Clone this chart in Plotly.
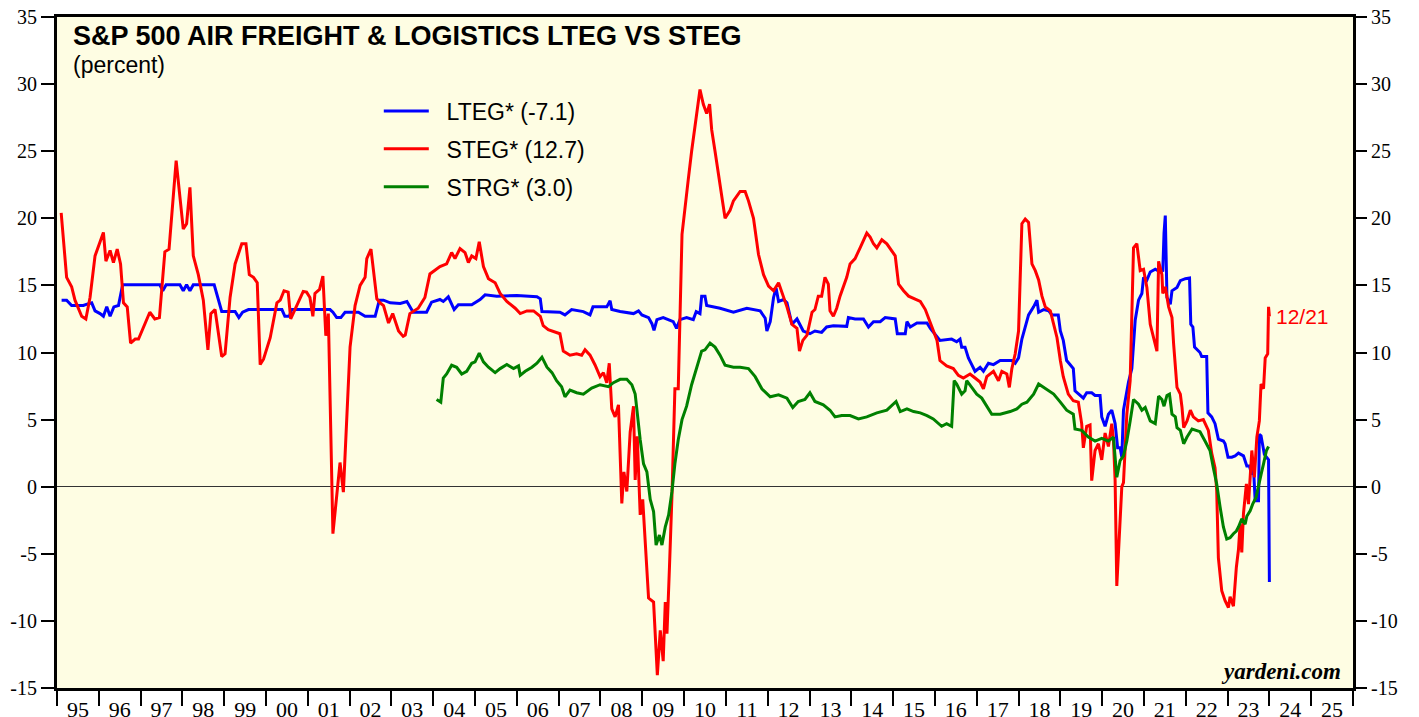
import plotly.graph_objects as go

# decimal years and values
lteg_x = [1995.11, 1995.23, 1995.35, 1995.63, 1995.72, 1995.83, 1995.91, 1996.03, 1996.11, 1996.19,
          1996.27, 1996.36, 1996.47, 1996.57, 1997.46, 1997.53, 1997.61, 1997.94, 1998.02, 1998.10,
          1998.18, 1998.26, 1998.76, 1998.94, 1999.26, 1999.35, 1999.44, 1999.58, 2000.38, 2000.45,
          2000.56, 2000.61, 2001.53, 2001.60, 2001.69, 2001.79, 2001.89, 2002.21, 2002.37, 2002.61,
          2002.71, 2002.81, 2002.97, 2003.21, 2003.37, 2003.52, 2003.84, 2003.96, 2004.16, 2004.24,
          2004.36, 2004.50, 2004.60, 2004.92, 2005.12, 2005.24, 2005.52, 2006.00, 2006.48, 2006.56,
          2006.60, 2007.03, 2007.15, 2007.31, 2007.59, 2007.75, 2007.82, 2008.15, 2008.23, 2008.27,
          2008.47, 2008.79, 2008.91, 2008.99, 2009.15, 2009.23, 2009.28, 2009.35, 2009.50, 2009.74,
          2009.82, 2009.90, 2010.06, 2010.22, 2010.29, 2010.38, 2010.42, 2010.50, 2010.54, 2010.86,
          2011.18, 2011.50, 2011.82, 2011.94, 2011.98, 2012.06, 2012.14, 2012.20, 2012.26, 2012.38,
          2012.46, 2012.58, 2012.70, 2012.85, 2013.01, 2013.13, 2013.29, 2013.41, 2013.57, 2013.89,
          2013.93, 2014.09, 2014.29, 2014.41, 2014.53, 2014.69, 2014.81, 2015.05, 2015.10, 2015.29,
          2015.33, 2015.41, 2015.57, 2015.81, 2015.89, 2016.00, 2016.12, 2016.40, 2016.52, 2016.60,
          2016.64, 2016.72, 2016.80, 2016.88, 2016.96, 2017.08, 2017.16, 2017.28, 2017.40, 2017.56,
          2017.84, 2017.92, 2018.00, 2018.08, 2018.16, 2018.24, 2018.36, 2018.44, 2018.48, 2018.60,
          2018.72, 2018.80, 2018.95, 2019.00, 2019.07, 2019.15, 2019.23, 2019.31, 2019.35, 2019.43,
          2019.55, 2019.63, 2019.75, 2019.83, 2019.95, 2019.99, 2020.07, 2020.15, 2020.23, 2020.31,
          2020.37, 2020.43, 2020.47, 2020.51, 2020.59, 2020.63, 2020.71, 2020.79, 2020.87, 2020.95,
          2020.99, 2021.07, 2021.15, 2021.27, 2021.39, 2021.45, 2021.48, 2021.51, 2021.55, 2021.63,
          2021.67, 2021.79, 2021.87, 2021.99, 2022.09, 2022.12, 2022.17, 2022.21, 2022.34, 2022.38,
          2022.50, 2022.53, 2022.62, 2022.70, 2022.78, 2022.90, 2022.94, 2023.01, 2023.10, 2023.18,
          2023.26, 2023.38, 2023.46, 2023.52, 2023.58, 2023.62, 2023.66, 2023.74, 2023.76, 2023.80,
          2023.88, 2023.98, 2024.00]
lteg_y = [13.9, 13.9, 13.5, 13.5, 13.6, 13.7, 13.1, 12.9, 12.7, 13.4,
          12.7, 13.4, 13.5, 15.05, 15.05, 14.6, 15.05, 15.05, 14.6, 15.05,
          14.6, 15.05, 15.05, 13.06, 13.06, 12.6, 13.0, 13.2, 13.2, 12.7,
          12.7, 13.2, 13.2, 13.0, 12.6, 12.6, 13.0, 13.0, 12.7, 12.7,
          13.9, 13.9, 13.7, 13.65, 13.8, 13.0, 13.0, 13.75, 13.95, 13.8,
          14.15, 13.2, 13.55, 13.55, 13.95, 14.3, 14.2, 14.25, 14.15, 14.0,
          13.05, 13.0, 12.8, 13.2, 13.05, 12.8, 13.4, 13.4, 13.85, 13.2,
          13.05, 12.9, 13.1, 12.8, 12.6, 12.15, 11.65, 12.45, 12.6, 12.3,
          11.8, 12.45, 12.6, 12.45, 13.05, 12.9, 14.2, 14.2, 13.5, 13.3,
          13.0, 13.3, 13.1, 12.55, 11.6, 12.3, 14.1, 14.8, 13.8, 13.95,
          13.7, 12.1, 12.5, 11.6, 11.4, 11.6, 11.5, 11.9, 12.0, 11.95,
          12.6, 12.5, 12.5, 11.9, 12.3, 12.3, 12.6, 12.5, 11.4, 11.4,
          12.3, 11.9, 12.2, 12.2, 11.8, 11.4, 10.9, 11.0, 10.8, 11.0,
          10.4, 10.4, 9.6, 9.1, 8.6, 8.9, 8.6, 9.2, 9.1, 9.4,
          9.4, 9.2, 9.6, 11.0, 11.9, 12.8, 13.4, 13.9, 13.0, 13.2,
          13.1, 12.8, 12.8, 11.6, 10.9, 9.4, 9.1, 8.8, 7.15, 6.9,
          6.6, 7.0, 7.0, 6.8, 6.8, 5.2, 4.5, 5.4, 5.7, 4.7,
          2.9, 2.9, 2.2, 5.7, 7.15, 7.8, 8.8, 12.4, 13.9, 14.4,
          15.6, 15.4, 16.0, 16.2, 16.0, 16.1, 18.9, 20.2, 14.1, 13.6,
          14.6, 14.85, 15.35, 15.5, 15.55, 12.1, 11.9, 10.4, 10.0, 9.7,
          9.7, 5.5, 5.2, 4.7, 3.55, 3.4, 3.2, 2.2, 2.2, 2.3,
          2.5, 2.3, 1.55, 1.55, 0.9, 1.4, -1.05, -1.05, 3.9, 3.8,
          2.4, 2.0, -7.1]

steg_x = [1995.10, 1995.23, 1995.35, 1995.43, 1995.59, 1995.69, 1995.79, 1995.91, 1996.11, 1996.17,
          1996.27, 1996.35, 1996.44, 1996.52, 1996.59, 1996.68, 1996.76, 1996.87, 1996.95, 1997.22,
          1997.34, 1997.45, 1997.58, 1997.68, 1997.85, 1998.02, 1998.10, 1998.18, 1998.26, 1998.38,
          1998.50, 1998.61, 1998.68, 1998.78, 1998.94, 1999.02, 1999.14, 1999.26, 1999.42, 1999.52,
          1999.60, 1999.70, 1999.79, 1999.86, 1999.94, 2000.10, 2000.26, 2000.34, 2000.43, 2000.53,
          2000.59, 2000.73, 2000.89, 2000.97, 2001.05, 2001.12, 2001.17, 2001.28, 2001.36, 2001.43,
          2001.49, 2001.60, 2001.69, 2001.77, 2001.85, 2002.01, 2002.13, 2002.25, 2002.37, 2002.41,
          2002.51, 2002.65, 2002.73, 2002.81, 2002.93, 2003.03, 2003.17, 2003.28, 2003.33, 2003.44,
          2003.64, 2003.80, 2003.92, 2004.04, 2004.16, 2004.32, 2004.44, 2004.52, 2004.64, 2004.76,
          2004.84, 2004.92, 2005.02, 2005.10, 2005.20, 2005.32, 2005.48, 2005.60, 2005.76, 2005.96,
          2006.08, 2006.24, 2006.40, 2006.56, 2006.63, 2006.75, 2007.03, 2007.11, 2007.27, 2007.43,
          2007.55, 2007.63, 2007.75, 2007.87, 2007.99, 2008.07, 2008.15, 2008.21, 2008.27, 2008.35,
          2008.43, 2008.51, 2008.56, 2008.63, 2008.71, 2008.79, 2008.83, 2008.88, 2008.95, 2009.01,
          2009.09, 2009.15, 2009.27, 2009.31, 2009.36, 2009.43, 2009.50, 2009.55, 2009.59, 2009.65,
          2009.71, 2009.78, 2009.86, 2009.95, 2010.02, 2010.10, 2010.18, 2010.30, 2010.38, 2010.46,
          2010.54, 2010.61, 2010.66, 2010.74, 2010.82, 2010.90, 2010.98, 2011.10, 2011.18, 2011.34,
          2011.46, 2011.54, 2011.66, 2011.78, 2011.90, 2012.02, 2012.14, 2012.26, 2012.38, 2012.46,
          2012.58, 2012.70, 2012.76, 2012.84, 2012.94, 2013.06, 2013.13, 2013.21, 2013.29, 2013.37,
          2013.45, 2013.49, 2013.57, 2013.65, 2013.73, 2013.81, 2013.89, 2013.97, 2014.09, 2014.21,
          2014.29, 2014.37, 2014.45, 2014.53, 2014.61, 2014.73, 2014.85, 2014.97, 2015.05, 2015.13,
          2015.25, 2015.37, 2015.53, 2015.65, 2015.77, 2015.84, 2015.96, 2016.05, 2016.12, 2016.28,
          2016.44, 2016.56, 2016.68, 2016.84, 2016.96, 2017.08, 2017.16, 2017.24, 2017.40, 2017.52,
          2017.60, 2017.72, 2017.78, 2017.84, 2017.92, 2018.00, 2018.08, 2018.16, 2018.24, 2018.32,
          2018.40, 2018.48, 2018.56, 2018.64, 2018.76, 2018.84, 2018.92, 2019.00, 2019.07, 2019.19,
          2019.31, 2019.43, 2019.51, 2019.55, 2019.63, 2019.71, 2019.75, 2019.83, 2019.91, 2019.99,
          2020.07, 2020.15, 2020.23, 2020.27, 2020.31, 2020.35, 2020.41, 2020.47, 2020.51, 2020.59,
          2020.67, 2020.75, 2020.83, 2020.91, 2020.99, 2021.07, 2021.15, 2021.23, 2021.31, 2021.35,
          2021.43, 2021.45, 2021.51, 2021.59, 2021.67, 2021.71, 2021.79, 2021.87, 2021.91, 2021.95,
          2022.03, 2022.11, 2022.18, 2022.30, 2022.42, 2022.54, 2022.62, 2022.70, 2022.74, 2022.78,
          2022.86, 2022.94, 2023.02, 2023.06, 2023.14, 2023.21, 2023.26, 2023.30, 2023.34, 2023.38,
          2023.45, 2023.50, 2023.58, 2023.64, 2023.70, 2023.76, 2023.80, 2023.86, 2023.90, 2023.96,
          2023.98, 2024.00]
steg_y = [20.4, 15.6, 14.9, 13.9, 12.7, 12.5, 14.1, 17.2, 18.95, 16.8,
          17.6, 16.7, 17.7, 16.6, 13.7, 13.4, 10.7, 11.0, 11.0, 13.0,
          12.5, 12.6, 17.5, 17.7, 24.3, 19.2, 19.6, 22.3, 17.2, 15.8,
          13.9, 10.2, 12.9, 13.2, 9.7, 9.9, 14.1, 16.6, 18.1, 18.1,
          15.8, 15.6, 15.2, 9.1, 9.5, 11.1, 13.7, 13.9, 14.6, 14.5,
          12.5, 13.4, 14.55, 14.5, 14.1, 12.7, 14.4, 14.7, 15.7, 11.25,
          12.9, -3.5, -0.8, 1.8, -0.4, 10.4, 13.5, 15.0, 15.6, 17.0,
          17.7, 14.0, 13.7, 13.5, 12.2, 12.9, 11.6, 11.2, 11.3, 12.9,
          13.3, 14.1, 15.85, 16.1, 16.4, 16.6, 17.45, 17.0, 17.75, 17.45,
          16.7, 17.2, 17.0, 18.25, 16.4, 15.5, 15.2, 14.4, 13.8, 13.3,
          12.9, 13.1, 13.1, 12.7, 12.0, 11.7, 11.4, 10.1, 9.8, 9.9,
          9.8, 10.2, 9.8, 9.07, 8.2, 8.5, 7.75, 9.2, 5.8, 5.2,
          6.1, -1.25, 1.1, -0.36, 4.06, 6.0, 0.5, 3.76, -2.1, -0.95,
          -5.1, -8.3, -8.6, -10.7, -14.05, -10.7, -13.0, -8.6, -10.95, -6.0,
          -0.66, 7.3, 7.3, 18.8, 20.9, 22.9, 25.0, 27.6, 29.6, 28.5,
          27.8, 28.5, 26.6, 25.0, 23.2, 21.4, 20.0, 20.6, 21.3, 22.0,
          22.0, 21.3, 20.0, 17.3, 15.8, 14.95, 14.6, 15.2, 14.1, 13.4,
          12.1, 11.8, 10.1, 10.9, 11.3, 13.0, 13.2, 14.2, 14.2, 15.6,
          15.1, 13.1, 12.7, 13.3, 14.2, 14.85, 15.6, 16.6, 17.0, 17.8,
          18.3, 18.9, 18.6, 18.1, 17.8, 18.4, 18.1, 17.6, 17.2, 15.1,
          14.6, 14.2, 14.0, 13.8, 13.2, 12.6, 11.6, 10.9, 9.4, 9.0,
          8.8, 8.3, 8.1, 8.4, 8.1, 7.8, 7.3, 8.2, 8.6, 7.9,
          8.6, 8.4, 7.4, 8.8, 9.9, 11.6, 19.6, 19.95, 19.7, 16.6,
          16.1, 15.4, 14.2, 13.4, 13.1, 12.1, 11.1, 9.4, 8.2, 6.9,
          6.4, 6.3, 4.7, 2.9, 4.5, 4.6, 0.45, 2.7, 3.2, 2.0,
          4.0, 3.0, 4.7, 3.5, 0.45, -7.4, -3.3, 0.0, 0.3, 5.4,
          7.9, 17.8, 18.1, 16.1, 16.2, 14.85, 12.1, 11.1, 10.1, 16.8,
          15.8, 14.4, 14.9, 13.4, 12.6, 10.6, 7.4, 6.9, 5.9, 4.4,
          4.9, 5.7, 5.2, 4.9, 5.0, 4.2, 2.5, 1.4, -0.3, -5.3,
          -7.75, -8.5, -9.0, -8.2, -8.9, -6.0, -4.7, -2.8, -4.9, -2.0,
          0.2, -1.3, 2.7, 0.7, 3.7, 4.9, 7.65, 7.3, 9.6, 9.9,
          13.4, 12.7]

strg_x = [2004.08, 2004.18, 2004.24, 2004.32, 2004.44, 2004.56, 2004.68, 2004.80, 2004.92, 2005.00,
          2005.10, 2005.20, 2005.32, 2005.48, 2005.60, 2005.76, 2005.92, 2006.04, 2006.08, 2006.20,
          2006.36, 2006.48, 2006.60, 2006.72, 2006.84, 2006.95, 2007.07, 2007.15, 2007.27, 2007.43,
          2007.59, 2007.79, 2007.99, 2008.19, 2008.31, 2008.47, 2008.63, 2008.75, 2008.83, 2008.88,
          2008.95, 2009.03, 2009.11, 2009.19, 2009.27, 2009.33, 2009.41, 2009.47, 2009.55, 2009.63,
          2009.71, 2009.78, 2009.86, 2009.95, 2010.06, 2010.18, 2010.30, 2010.42, 2010.50, 2010.62,
          2010.74, 2010.86, 2010.98, 2011.18, 2011.34, 2011.54, 2011.70, 2011.86, 2012.06, 2012.26,
          2012.46, 2012.60, 2012.73, 2012.89, 2013.01, 2013.13, 2013.33, 2013.49, 2013.61, 2013.77,
          2013.97, 2014.17, 2014.37, 2014.61, 2014.85, 2015.07, 2015.17, 2015.33, 2015.49, 2015.65,
          2015.81, 2015.96, 2016.16, 2016.28, 2016.40, 2016.46, 2016.52, 2016.64, 2016.72, 2016.76,
          2016.88, 2017.00, 2017.12, 2017.24, 2017.36, 2017.56, 2017.80, 2017.96, 2018.08, 2018.20,
          2018.36, 2018.48, 2018.60, 2018.72, 2018.84, 2019.00, 2019.15, 2019.31, 2019.35, 2019.51,
          2019.67, 2019.83, 2019.99, 2020.15, 2020.27, 2020.35, 2020.43, 2020.51, 2020.59, 2020.67,
          2020.75, 2020.87, 2020.95, 2021.03, 2021.15, 2021.27, 2021.35, 2021.43, 2021.48, 2021.55,
          2021.61, 2021.67, 2021.75, 2021.79, 2021.87, 2021.95, 2022.03, 2022.15, 2022.26, 2022.34,
          2022.46, 2022.58, 2022.66, 2022.74, 2022.82, 2022.90, 2022.98, 2023.06, 2023.14, 2023.21,
          2023.26, 2023.34, 2023.42, 2023.46, 2023.54, 2023.60, 2023.68, 2023.74, 2023.80, 2023.86,
          2023.93, 2023.98]
strg_y = [6.5, 6.3, 8.1, 8.4, 9.05, 8.9, 8.4, 8.6, 9.2, 9.3,
          9.95, 9.3, 8.9, 8.5, 8.8, 9.1, 8.8, 9.0, 8.3, 8.6,
          8.9, 9.2, 9.65, 8.9, 8.5, 7.9, 7.45, 6.7, 7.2, 7.0,
          6.9, 7.35, 7.6, 7.45, 7.75, 8.0, 8.0, 7.6, 6.9, 5.25,
          3.5, 1.7, 1.1, -0.95, -1.85, -4.35, -3.6, -4.35, -3.0, -2.1,
          -0.35, 1.7, 3.5, 5.0, 6.0, 7.6, 8.9, 10.1, 10.2, 10.7,
          10.4, 9.8, 9.05, 8.9, 8.9, 8.8, 8.2, 7.3, 6.7, 6.85,
          6.6, 5.9, 6.35, 6.5, 7.0, 6.35, 6.1, 5.7, 5.2, 5.3,
          5.3, 5.05, 5.2, 5.5, 5.7, 6.35, 5.6, 5.8, 5.6, 5.5,
          5.3, 5.05, 4.5, 4.7, 4.5, 7.9, 7.65, 6.9, 7.15, 7.9,
          7.4, 6.9, 6.6, 6.0, 5.4, 5.4, 5.6, 5.8, 6.15, 6.3,
          6.9, 7.65, 7.4, 7.15, 6.9, 6.3, 5.7, 5.4, 4.3, 4.2,
          3.7, 3.4, 3.6, 3.4, 3.7, 0.7, 1.95, 2.3, 3.4, 4.9,
          6.5, 6.15, 5.7, 5.9, 4.9, 4.7, 6.75, 6.5, 6.0, 6.8,
          6.9, 5.4, 5.2, 4.4, 4.2, 3.2, 3.7, 4.3, 4.2, 4.1,
          3.4, 2.7, 1.4, 0.2, -1.5, -3.0, -3.9, -3.8, -3.5, -3.3,
          -3.0, -2.4, -2.8, -2.2, -1.8, -1.3, -0.8, 0.2, 0.9, 1.7,
          2.7, 3.0]

year_ticks = list(range(1995, 2027))
year_labels = ["95", "96", "97", "98", "99", "00", "01", "02", "03", "04", "05", "06", "07", "08",
               "09", "10", "11", "12", "13", "14", "15", "16", "17", "18", "19", "20", "21", "22",
               "23", "24", "25"]
label_pos = [y + 0.5 for y in year_ticks[:-1]]
y_ticks = [-15, -10, -5, 0, 5, 10, 15, 20, 25, 30, 35]
y_labels = ["-15", "-10", "-5", "0", "5", "10", "15", "20", "25", "30", "35"]

gap = "\u00a0\u00a0"
fig = go.Figure()
fig.add_trace(go.Scatter(x=lteg_x, y=lteg_y, mode="lines", name=gap + "LTEG* (-7.1)",
                         legendgroup="a", line=dict(color="#0000FF", width=3)))
fig.add_trace(go.Scatter(x=steg_x, y=steg_y, mode="lines", name=gap + "STEG* (12.7)",
                         legendgroup="b", line=dict(color="#FF0000", width=3)))
fig.add_trace(go.Scatter(x=strg_x, y=strg_y, mode="lines", name=gap + "STRG* (3.0)",
                         legendgroup="c", line=dict(color="#008000", width=3)))
# carrier for the right-hand axis
fig.add_trace(go.Scatter(x=[1995], y=[0], yaxis="y2", mode="markers", marker=dict(opacity=0),
                         showlegend=False, hoverinfo="skip"))

serif = "Liberation Serif, Times New Roman, serif"
sans = "Liberation Sans, Arial, sans-serif"

yaxis_common = dict(range=[-15, 35], tickmode="array", tickvals=y_ticks, ticktext=y_labels,
                    ticks="outside", ticklen=13, tickwidth=2, tickcolor="black",
                    tickfont=dict(family=serif, size=20, color="black"),
                    ticklabeloverflow="allow", showgrid=False, automargin=False)

# page has an 8px body margin, so the figure is sized to fill the rest of the window
fig.update_layout(
    width=1411, height=709,
    margin=dict(l=49, r=66, t=9, b=29),
    paper_bgcolor="white",
    plot_bgcolor="#FEFDE3",
    showlegend=True,
    legend=dict(x=0.2483, y=0.892, xanchor="left", yanchor="top", bgcolor="rgba(0,0,0,0)",
                font=dict(family=sans, size=23, color="black"), tracegroupgap=5,
                itemwidth=45),
    xaxis=dict(range=[1995, 2026], tickmode="array", tickvals=label_pos, ticktext=year_labels,
               ticks="", tickfont=dict(family=serif, size=22, color="black"),
               ticklabeloverflow="allow",
               showline=True, linewidth=3, linecolor="black", mirror=True, showgrid=False,
               zeroline=False, automargin=False,
               minor=dict(tickmode="array", tickvals=year_ticks, ticks="outside", ticklen=15,
                          tickwidth=2, tickcolor="black", showgrid=False)),
    yaxis=dict(**yaxis_common, showline=True, linewidth=3, linecolor="black", mirror=True,
               zeroline=True, zerolinecolor="#333333", zerolinewidth=1),
    yaxis2=dict(**yaxis_common, overlaying="y", side="right", anchor="x", zeroline=False,
                showline=False),
)

fig.add_annotation(text="<b>S&P 500 AIR FREIGHT & LOGISTICS LTEG VS STEG</b>", xref="paper",
                   yref="paper", x=0.0108, y=0.972, xanchor="left", yanchor="middle",
                   showarrow=False, font=dict(family=sans, size=27, color="black"))
fig.add_annotation(text="(percent)", xref="paper", yref="paper", x=0.0108, y=0.9285,
                   xanchor="left", yanchor="middle", showarrow=False,
                   font=dict(family=sans, size=23, color="black"))
fig.add_annotation(text="12/21", x=2024.1, y=12.7, xanchor="left", yanchor="middle",
                   showarrow=False, font=dict(family=sans, size=21, color="#FF0000"))
fig.add_annotation(text="<b><i>yardeni.com</i></b>", xref="paper", yref="paper", x=0.992,
                   y=0.024, xanchor="right", yanchor="middle", showarrow=False,
                   font=dict(family=serif, size=23, color="black"))

fig.write_html("out.html")
